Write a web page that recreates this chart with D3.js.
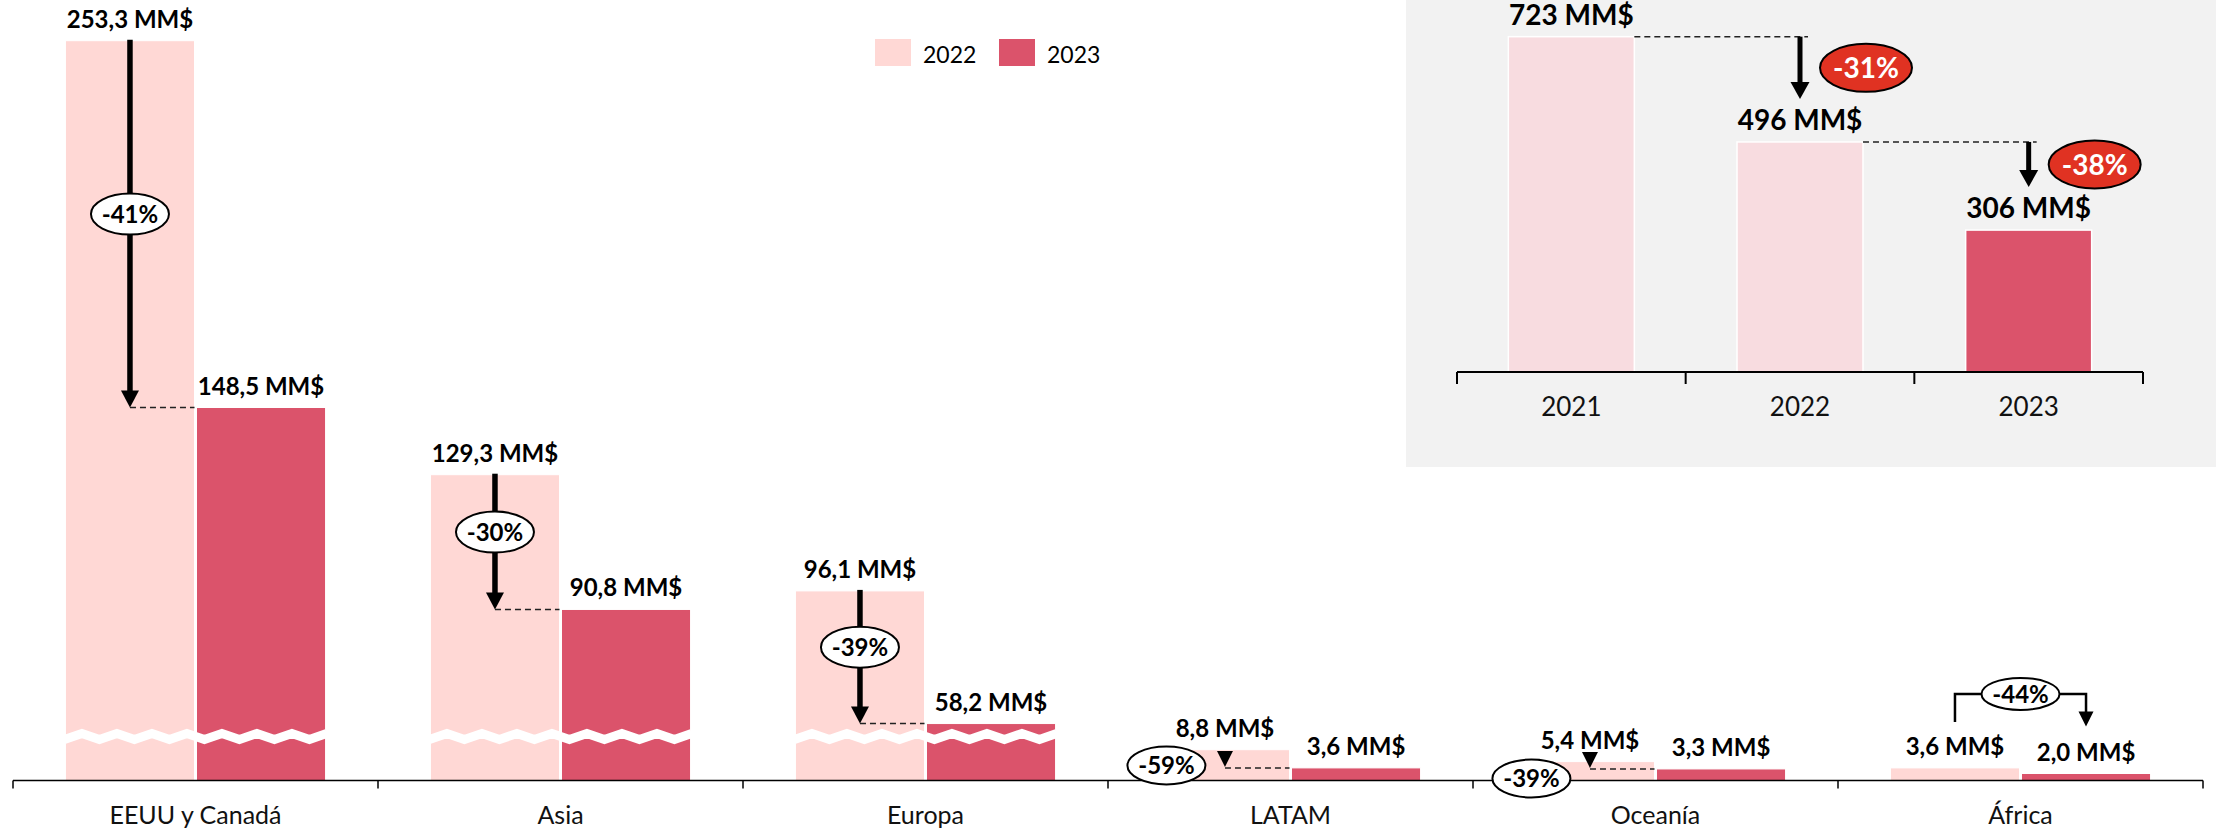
<!DOCTYPE html>
<html>
<head>
<meta charset="utf-8">
<script src="https://cdn.jsdelivr.net/npm/d3@7"></script>
<style>
   body { margin: 0; background: #fff; }
   svg { display: block; font-family: Lato, "Open Sans", sans-serif; }
</style>
</head>
<body>
<svg id="chart" width="2216" height="828"></svg>
<script>
// regional data (MM$)
var regions = ["EEUU y Canadá", "Asia", "Europa", "LATAM", "Oceanía", "África"];
var years = ["2022", "2023"];
var value2022 = [253.3, 129.3, 96.1, 8.8, 5.4, 3.6];
var value2023 = [148.5, 90.8, 58.2, 3.6, 3.3, 2.0];
var changeLabels = ["-41%", "-30%", "-39%", "-59%", "-39%", "-44%"];
var annotStyle = ["inline", "inline", "inline", "side", "side", "bracket"];

// totals inset
var totalYears = ["2021", "2022", "2023"];
var totalValues = [723, 496, 306];
var totalChanges = ["-31%", "-38%"];

var colors = { "2022": "#FFD8D5", "2023": "#DB536B" };
var totalColors = ["#F8DCE0", "#F8DCE0", "#DB536B"];

var loc = d3.formatLocale({ decimal: ",", thousands: ".", grouping: [3], currency: ["", ""] });
var fmt1 = loc.format(".1f"), fmt0 = loc.format(".0f");

var svg = d3.select("#chart");

// ---------- main chart ----------
var base = 780.5;
var pxPerUnit = 3.5;
var breakAt = 54.5, breakPx = 44, brokenMin = 50;

var x0 = d3.scaleBand().domain(regions).range([13, 2203]).padding(0);
var x1 = d3.scaleBand().domain(years).range([0, x0.bandwidth()]).paddingInner(0.015).paddingOuter(0.4);
var yLin = d3.scaleLinear().domain([0, 260]).range([base, base - pxPerUnit * 260]);
var yBrk = d3.scaleLinear().domain([0, breakAt, 260])
   .range([base, base - breakPx, yLin(260 - breakAt) - breakPx]);

function broken(i) { return value2023[i] > brokenMin; }
function yOf(i, v) { return broken(i) ? yBrk(v) : yLin(v); }

var rows = regions.map(function(r, i) {
   return { region: r, i: i, vals: [value2022[i], value2023[i]] };
});

var groups = svg.append("g").selectAll("g").data(rows).enter().append("g")
   .attr("transform", function(d) { return "translate(" + x0(d.region) + ",0)"; });

groups.selectAll("rect").data(function(d) {
      return years.map(function(y, k) { return { year: y, v: d.vals[k], i: d.i }; });
   })
   .enter().append("rect")
   .attr("x", function(d) { return x1(d.year); })
   .attr("width", x1.bandwidth())
   .attr("y", function(d) { return yOf(d.i, d.v); })
   .attr("height", function(d) { return base - yOf(d.i, d.v); })
   .style("fill", function(d) { return colors[d.year]; })
   .style("stroke", "#fff").style("stroke-width", 1);

// axis break zigzag
groups.filter(function(d) { return broken(d.i); }).each(function(d) {
   var xs = x1("2022") - 1, xe = x1("2023") + x1.bandwidth() + 1;
   var yc = base - breakPx, pts = [], k = 0;
   for (var x = xs; x <= xe + 17.5; x += 17.5, k++) pts.push([Math.min(x, xe), yc + (k % 2 ? -3 : 3)]);
   d3.select(this).append("path")
      .attr("d", d3.line()(pts))
      .style("fill", "none").style("stroke", "#fff").style("stroke-width", 9);
});

// category axis
var axis = svg.append("g");
axis.append("line").attr("x1", 13).attr("x2", 2203).attr("y1", base).attr("y2", base)
   .style("stroke", "#000").style("stroke-width", 1.5);
var edges = regions.map(function(r) { return x0(r); }).concat([x0.range()[1]]);
axis.selectAll(".tick").data(edges).enter().append("line")
   .attr("x1", function(d) { return d; }).attr("x2", function(d) { return d; })
   .attr("y1", base).attr("y2", base + 8)
   .style("stroke", "#000").style("stroke-width", 1.5);
axis.selectAll("text").data(regions).enter().append("text")
   .attr("x", function(d) { return x0(d) + x0.bandwidth() / 2; })
   .attr("y", 824).attr("text-anchor", "middle")
   .style("font-size", "25px").style("fill", "#111")
   .text(function(d) { return d; });

function arrowHead(g, x, tip, w, h) {
   g.append("path")
      .attr("d", "M" + (x - w / 2) + "," + (tip - h) + "L" + (x + w / 2) + "," + (tip - h) + "L" + x + "," + tip + "Z")
      .style("fill", "#000");
}
function badge(g, cx, cy, rx, ry, label, fill, textColor, size) {
   g.append("ellipse").attr("cx", cx).attr("cy", cy).attr("rx", rx).attr("ry", ry)
      .style("fill", fill).style("stroke", "#000").style("stroke-width", 2);
   g.append("text").attr("x", cx).attr("y", cy).attr("dy", "0.36em").attr("text-anchor", "middle")
      .style("font-weight", "bold").style("font-size", size + "px").style("fill", textColor)
      .text(label);
}

// change annotations
var ann = svg.append("g");
rows.forEach(function(d) {
   var i = d.i, bx = x0(d.region);
   var xa = bx + x1("2022") + x1.bandwidth() / 2;
   var xb = bx + x1("2023") + x1.bandwidth() / 2;
   var right22 = bx + x1("2022") + x1.bandwidth();
   var y22 = yOf(i, value2022[i]), y23 = yOf(i, value2023[i]);
   var style = annotStyle[i];

   if (style !== "bracket") {
      ann.append("line").attr("x1", xa).attr("x2", right22).attr("y1", y23).attr("y2", y23)
         .style("stroke", "#222").style("stroke-width", 1.5).style("stroke-dasharray", "6,4");
   }
   if (style === "inline") {
      ann.append("line").attr("x1", xa).attr("x2", xa).attr("y1", y22 - 1).attr("y2", y23 - 15)
         .style("stroke", "#000").style("stroke-width", 5.5);
      arrowHead(ann, xa, y23, 18, 17);
      badge(ann, xa, (y22 + y23) / 2 - 10, 39, 20.5, changeLabels[i], "#fff", "#000", 24);
   } else if (style === "side") {
      arrowHead(ann, xa, y23 - 1, 16, 16);
      var nudge = { "LATAM": -15, "Oceanía": -2 }[d.region];
      badge(ann, bx + x1("2022") + 6, base + nudge, 39, 19, changeLabels[i], "#fff", "#000", 24);
   } else {
      var top = y22 - 74;
      ann.append("path")
         .attr("d", "M" + xa + "," + (y22 - 46) + "V" + top + "H" + xb + "V" + (y23 - 60))
         .style("fill", "none").style("stroke", "#000").style("stroke-width", 2.5);
      arrowHead(ann, xb, y23 - 47, 15, 15);
      badge(ann, (xa + xb) / 2, top, 39, 16, changeLabels[i], "#fff", "#000", 24);
   }
});

// value labels
groups.selectAll(".val").data(function(d) {
      return years.map(function(y, k) { return { year: y, v: d.vals[k], i: d.i }; });
   })
   .enter().append("text").attr("class", "val")
   .attr("x", function(d) { return x1(d.year) + x1.bandwidth() / 2; })
   .attr("y", function(d) { return yOf(d.i, d.v) - 13; })
   .attr("text-anchor", "middle")
   .style("font-weight", "bold").style("font-size", "24px").style("fill", "#000")
   .text(function(d) { return fmt1(d.v) + " MM$"; });

// legend
var legend = svg.append("g");
var legendX = [875, 999];
years.forEach(function(y, k) {
   legend.append("rect").attr("x", legendX[k]).attr("y", 39).attr("width", 36).attr("height", 27)
      .style("fill", colors[y]);
   legend.append("text").attr("x", legendX[k] + 48).attr("y", 63)
      .style("font-size", "23px").style("fill", "#000").text(y);
});

// ---------- totals inset ----------
var inset = svg.append("g");
inset.append("rect").attr("x", 1406).attr("y", 0).attr("width", 810).attr("height", 467)
   .style("fill", "#F2F2F2");

var ib = 372;
var xI = d3.scaleBand().domain(totalYears).range([1457, 2143]).paddingInner(0.449).paddingOuter(0.2245);
var yI = d3.scaleLinear().domain([0, 800]).range([ib, ib - 0.4638 * 800]);

inset.selectAll(".tbar").data(totalValues).enter().append("rect").attr("class", "tbar")
   .attr("x", function(d, k) { return xI(totalYears[k]); })
   .attr("width", xI.bandwidth())
   .attr("y", function(d) { return yI(d); })
   .attr("height", function(d) { return ib - yI(d); })
   .style("fill", function(d, k) { return totalColors[k]; })
   .style("stroke", "#fff").style("stroke-width", 1.5);

inset.append("line").attr("x1", xI.range()[0]).attr("x2", xI.range()[1]).attr("y1", ib).attr("y2", ib)
   .style("stroke", "#000").style("stroke-width", 2);
var iEdges = d3.range(totalYears.length + 1).map(function(k) { return xI.range()[0] + k * xI.step(); });
inset.selectAll(".itick").data(iEdges).enter().append("line")
   .attr("x1", function(d) { return d; }).attr("x2", function(d) { return d; })
   .attr("y1", ib).attr("y2", ib + 12)
   .style("stroke", "#000").style("stroke-width", 2);
inset.selectAll(".iyear").data(totalYears).enter().append("text")
   .attr("x", function(d) { return xI(d) + xI.bandwidth() / 2; })
   .attr("y", 416).attr("text-anchor", "middle")
   .style("font-size", "26px").style("fill", "#111").text(function(d) { return d; });

totalChanges.forEach(function(lbl, k) {
   var yFrom = yI(totalValues[k]);
   var xa = xI(totalYears[k + 1]) + xI.bandwidth() / 2;
   var tip = yI(totalValues[k + 1]) - 43;
   inset.append("line").attr("x1", xI(totalYears[k]) + xI.bandwidth()).attr("x2", xa + 8)
      .attr("y1", yFrom).attr("y2", yFrom)
      .style("stroke", "#222").style("stroke-width", 1.5).style("stroke-dasharray", "6,4");
   inset.append("line").attr("x1", xa).attr("x2", xa).attr("y1", yFrom).attr("y2", tip - 15)
      .style("stroke", "#000").style("stroke-width", 5);
   arrowHead(inset, xa, tip, 19, 17);
   badge(inset, xa + 66, (yFrom + tip) / 2, 46, 24, lbl, "#E03222", "#fff", 28);
});

inset.selectAll(".tval").data(totalValues).enter().append("text")
   .attr("x", function(d, k) { return xI(totalYears[k]) + xI.bandwidth() / 2; })
   .attr("y", function(d) { return yI(d) - 12; })
   .attr("text-anchor", "middle")
   .style("font-weight", "bold").style("font-size", "28px").style("fill", "#000")
   .text(function(d) { return fmt0(d) + " MM$"; });
</script>
</body>
</html>
